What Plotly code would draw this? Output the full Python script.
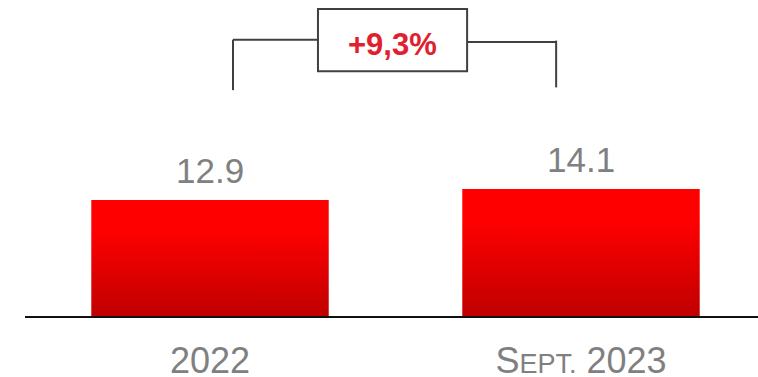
import plotly.graph_objects as go

categories = ["2022", "Sept. 2023"]
tick_labels = ["2022", "S<span style='font-size:27px'>EPT.</span> 2023"]
values = [12.9, 14.1]
value_labels = ["12.9", "14.1"]
growth_label = "+9,3%"

BAR_HALF = 0.32
FONT = "Liberation Sans, Arial, sans-serif"

fig = go.Figure()
for i, v in enumerate(values):
    xs = [i - BAR_HALF, i + BAR_HALF, i + BAR_HALF, i - BAR_HALF, i - BAR_HALF]
    ys = [0, 0, v, v, 0]
    fig.add_trace(go.Scatter(
        x=xs, y=ys, mode="lines", fill="toself",
        line=dict(width=0, color="rgba(0,0,0,0)"),
        fillgradient=dict(type="vertical",
                          colorscale=[[0, "#C00000"], [0.75, "#FF0000"], [1, "#FF0000"]]),
        hoverinfo="skip", showlegend=False, name=categories[i]))
    fig.add_annotation(x=i, y=v, text=value_labels[i], showarrow=False,
                       yanchor="bottom", yshift=8,
                       font=dict(family=FONT, size=35, color="#808080"))

# Bracket
lc = "#404040"
lw = 2
shapes = [
    dict(type="line", x0=0.062, x1=0.062, y0=25.1, y1=30.7),
    dict(type="line", x0=0.062, x1=0.291, y0=30.7, y1=30.7),
    dict(type="rect", x0=0.291, x1=0.693, y0=27.2, y1=34.1, fillcolor="white"),
    dict(type="line", x0=0.693, x1=0.933, y0=30.45, y1=30.45),
    dict(type="line", x0=0.933, x1=0.933, y0=25.4, y1=30.6),
]
for s in shapes:
    s.update(xref="x", yref="y", line=dict(color=lc, width=lw))
    fig.add_shape(**s)

fig.add_annotation(x=0.492, y=30.2, text="<b>" + growth_label + "</b>", showarrow=False,
                   font=dict(family=FONT, size=31, color="#E0202E"))

fig.update_layout(
    width=758, height=377,
    margin=dict(l=0, r=0, t=0, b=0),
    plot_bgcolor="white", paper_bgcolor="white",
    xaxis=dict(domain=[25/758, 1], range=[-0.4987, 1.4771],
               tickvals=[0, 1], ticktext=tick_labels,
               showgrid=False, zeroline=False, showline=True,
               linecolor="#111111", linewidth=2, ticks="",
               ticklabelstandoff=12,
               tickfont=dict(family=FONT, size=36, color="#808080"),
               automargin=False, fixedrange=True),
    yaxis=dict(domain=[61/377, 1], range=[0, 316/9.0],
               visible=False, fixedrange=True),
)

fig.write_html("out.html")
